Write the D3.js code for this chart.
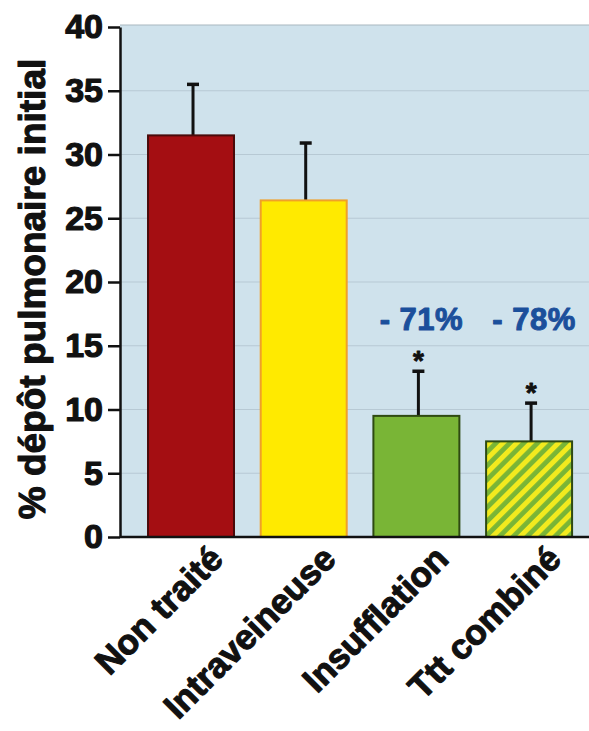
<!DOCTYPE html>
<html>
<head>
<meta charset="utf-8">
<script src="https://cdn.jsdelivr.net/npm/d3@7"></script>
<style>
  html, body { margin: 0; padding: 0; background: #ffffff; }
  svg { display: block; }
  text { font-family: "Liberation Sans", Arial, Helvetica, sans-serif; font-weight: bold; }
</style>
</head>
<body>
<svg id="chart" width="589" height="731"></svg>
<script>
// Lung deposit after treatment, as % of the initial pulmonary deposit
const categories = ["Non traité", "Intraveineuse", "Insufflation", "Ttt combiné"];
const meanValues = [31.5, 26.4, 9.5, 7.5];
const errorValues = [4.0, 4.5, 3.5, 3.0];
const reductionLabels = ["", "", "- 71%", "- 78%"];
const significant = [false, false, true, true];
const yTicks = [0, 5, 10, 15, 20, 25, 30, 35, 40];
const yTitle = "% dépôt pulmonaire initial";

const fills = ["#a40e12", "#ffea00", "#79b536", "url(#hatch)"];
const strokes = ["#4a0a0a", "#f0a028", "#2e4a12", "#2e4a12"];

const svg = d3.select("#chart");
const W = 589;
const plot = { left: 120, top: 27, bottom: 537 };

const y = d3.scaleLinear().domain([0, 40]).range([plot.bottom, plot.top]);
const x = d3.scaleBand()
  .domain(categories)
  .range([134.5, 585.6])
  .paddingInner(0.237)
  .paddingOuter(0.12);

// heavy text helper: fill plus a thin matching outline
function heavy(sel, color, w) {
  return sel.attr("fill", color).attr("stroke", color).attr("stroke-width", w)
    .attr("stroke-linejoin", "round");
}

// diagonal yellow stripes on green for the combined treatment
const defs = svg.append("defs");
const pat = defs.append("pattern")
  .attr("id", "hatch")
  .attr("patternUnits", "userSpaceOnUse")
  .attr("width", 9.8).attr("height", 9.8)
  .attr("patternTransform", "rotate(45)");
pat.append("rect").attr("width", 9.8).attr("height", 9.8).attr("fill", "#79b536");
pat.append("rect").attr("x", 0).attr("width", 5).attr("height", 9.8).attr("fill", "#f2ea1e");

// plot background
svg.append("rect")
  .attr("x", plot.left).attr("y", plot.top - 2)
  .attr("width", W - plot.left).attr("height", plot.bottom - plot.top + 2)
  .attr("fill", "#cfe2ec");
svg.append("line")
  .attr("x1", plot.left).attr("x2", W)
  .attr("y1", plot.top - 2).attr("y2", plot.top - 2)
  .attr("stroke", "#a9b7c0").attr("stroke-width", 1.2);

// faint horizontal grid lines
svg.append("g")
  .selectAll("line")
  .data(yTicks.filter(t => t > 0 && t < 40))
  .join("line")
  .attr("x1", plot.left).attr("x2", W)
  .attr("y1", d => y(d)).attr("y2", d => y(d))
  .attr("stroke", "#aebfcb").attr("stroke-width", 1).attr("opacity", 0.7);

const data = categories.map((c, i) => ({
  cat: c, mean: meanValues[i], err: errorValues[i],
  label: reductionLabels[i], sig: significant[i],
  fill: fills[i], stroke: strokes[i]
}));

const cx = d => x(d.cat) + x.bandwidth() / 2 + 2;

// error bars (upper only), drawn first so the bar covers the stem
const eb = svg.append("g").selectAll("g").data(data).join("g");
eb.append("line")
  .attr("x1", cx).attr("x2", cx)
  .attr("y1", d => y(d.mean))
  .attr("y2", d => y(d.mean + d.err))
  .attr("stroke", "#111").attr("stroke-width", 3);
eb.append("line")
  .attr("x1", d => cx(d) - 6)
  .attr("x2", d => cx(d) + 6)
  .attr("y1", d => y(d.mean + d.err))
  .attr("y2", d => y(d.mean + d.err))
  .attr("stroke", "#111").attr("stroke-width", 3.5);

// bars
svg.append("g").selectAll("rect").data(data).join("rect")
  .attr("x", d => x(d.cat))
  .attr("y", d => y(d.mean))
  .attr("width", x.bandwidth())
  .attr("height", d => y(0) - y(d.mean))
  .attr("fill", d => d.fill)
  .attr("stroke", d => d.stroke)
  .attr("stroke-width", 2);

// significance stars
heavy(svg.append("g").selectAll("text").data(data.filter(d => d.sig)).join("text")
  .attr("x", cx)
  .attr("y", d => y(d.mean + d.err) - 1)
  .attr("text-anchor", "middle")
  .attr("font-size", 28)
  .text("*"), "#111", 0.8);

// reduction labels
heavy(svg.append("g").selectAll("text").data(data.filter(d => d.label)).join("text")
  .attr("x", d => cx(d) + 3)
  .attr("y", y(16.2))
  .attr("text-anchor", "middle")
  .attr("font-size", 31)
  .attr("letter-spacing", 0.5)
  .text(d => d.label), "#1b4f9b", 1);

// y axis
const yAxis = d3.axisLeft(y).tickValues(yTicks).tickSize(12).tickPadding(5).tickSizeOuter(0);
const gy = svg.append("g").attr("transform", `translate(${plot.left},0)`).call(yAxis);
gy.select(".domain").attr("stroke", "#111").attr("stroke-width", 2.5);
gy.selectAll(".tick line").attr("stroke", "#111").attr("stroke-width", 2.5);
heavy(gy.selectAll(".tick text")
  .attr("font-size", 34)
  .attr("font-family", "'Liberation Sans', Arial, sans-serif")
  .attr("font-weight", "bold"), "#111", 1.2);

// baseline
svg.append("line")
  .attr("x1", plot.left).attr("x2", W)
  .attr("y1", plot.bottom).attr("y2", plot.bottom)
  .attr("stroke", "#111").attr("stroke-width", 2.5);

// category labels, rotated
heavy(svg.append("g").selectAll("text").data(categories).join("text")
  .attr("transform", d => `translate(${x(d) + x.bandwidth() / 2 + 34},${plot.bottom + 24}) rotate(-45)`)
  .attr("text-anchor", "end")
  .attr("font-size", 35)
  .text(d => d), "#111", 1.1);

// y axis title
heavy(svg.append("text")
  .attr("transform", `translate(45,${(plot.top + plot.bottom) / 2 + 7}) rotate(-90)`)
  .attr("text-anchor", "middle")
  .attr("font-size", 37)
  .text(yTitle), "#111", 1.1);
</script>
</body>
</html>
